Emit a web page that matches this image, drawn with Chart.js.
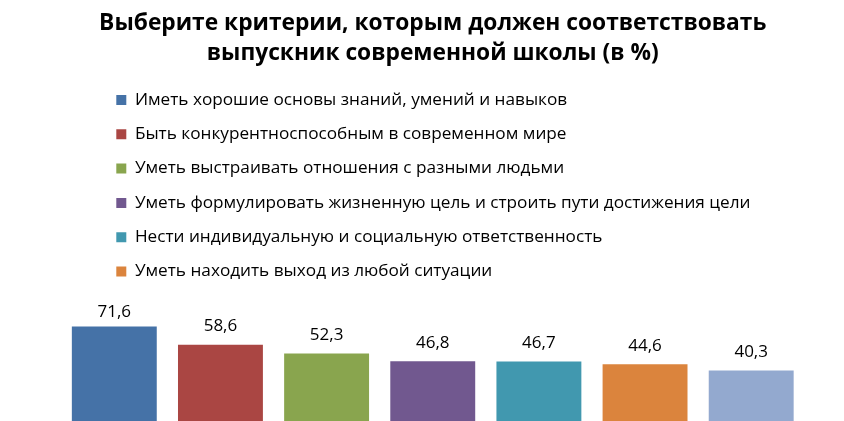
<!DOCTYPE html>
<html>
<head>
<meta charset="utf-8">
<script src="https://cdn.jsdelivr.net/npm/chart.js@4.4.1/dist/chart.umd.min.js"></script>
<style>
html, body { margin: 0; padding: 0; background: #ffffff; overflow: hidden; }
#wrap { width: 844px; height: 421px; overflow: hidden; position: relative; }
canvas { display: block; }
</style>
</head>
<body>
<div id="wrap"><canvas id="c" width="844" height="440"></canvas></div>
<script>
const titleLines = [
  'Выберите критерии, которым должен соответствовать',
  'выпускник современной школы (в %)'
];
const categories = [
  'Иметь хорошие основы знаний, умений и навыков',
  'Быть конкурентноспособным в современном мире',
  'Уметь выстраивать отношения с разными людьми',
  'Уметь формулировать жизненную цель и строить пути достижения цели',
  'Нести индивидуальную и социальную ответственность',
  'Уметь находить выход из любой ситуации',
  ''
];
const values = [71.6, 58.6, 52.3, 46.8, 46.7, 44.6, 40.3];
const colors = ['#4572A7', '#AA4643', '#89A54E', '#71588F', '#4198AF', '#DB843D', '#93A9CF'];

const FONT = "'Open Sans', 'Liberation Sans', sans-serif";
Chart.defaults.font.family = FONT;
Chart.defaults.color = '#000000';

const valueLabels = {
  id: 'valueLabels',
  afterDatasetsDraw(chart) {
    const ctx = chart.ctx;
    const meta = chart.getDatasetMeta(0);
    ctx.save();
    ctx.font = '17px ' + FONT;
    ctx.fillStyle = '#000000';
    ctx.textAlign = 'center';
    ctx.textBaseline = 'middle';
    meta.data.forEach((bar, i) => {
      const y = Math.max(bar.y - 18.5, chart.chartArea.top + 222);
      ctx.fillText(values[i].toFixed(1).replace('.', ','), bar.x, y);
    });
    ctx.restore();
  }
};

new Chart(document.getElementById('c'), {
  type: 'bar',
  data: {
    labels: categories,
    datasets: [{
      data: values,
      backgroundColor: colors,
      borderWidth: 0,
      categoryPercentage: 1,
      barPercentage: 0.8,
      clip: false
    }]
  },
  options: {
    responsive: false,
    animation: false,
    devicePixelRatio: 1,
    layout: { padding: { left: 21.5, right: 0, top: 0, bottom: 13 } },
    scales: {
      x: { type: 'category', offset: false, display: false },
      y: {
        position: 'left', min: 0, max: 240,
        grid: { display: false }, border: { display: false },
        ticks: { display: false },
        afterFit(scale) { scale.width = 92.8; }
      },
      yR: {
        type: 'linear', position: 'right',
        grid: { display: false }, border: { display: false },
        ticks: { display: false },
        afterFit(scale) { scale.width = 92.8; }
      }
    },
    plugins: {
      title: {
        display: true,
        text: titleLines,
        color: '#000000',
        font: { size: 22.75, weight: 'bold', lineHeight: '30px' },
        padding: { top: 8.5, bottom: 21.5 }
      },
      legend: {
        position: 'chartArea',
        align: 'start',
        onClick: null,
        title: {
          display: true,
          text: '',
          font: { size: 10, lineHeight: '10px' },
          padding: { top: 79.4, bottom: 0 }
        },
        labels: {
          boxWidth: 10,
          boxHeight: 10,
          padding: 2,
          color: '#000000',
          font: { size: 17.2, lineHeight: '32.3px' },
          generateLabels() {
            return categories.map((c, i) => ({
              text: [c],
              fillStyle: colors[i],
              strokeStyle: colors[i],
              lineWidth: 0,
              hidden: false,
              index: i
            })).filter(item => item.text[0] !== '');
          }
        }
      },
      tooltip: { enabled: false }
    }
  },
  plugins: [valueLabels]
});
</script>
</body>
</html>
